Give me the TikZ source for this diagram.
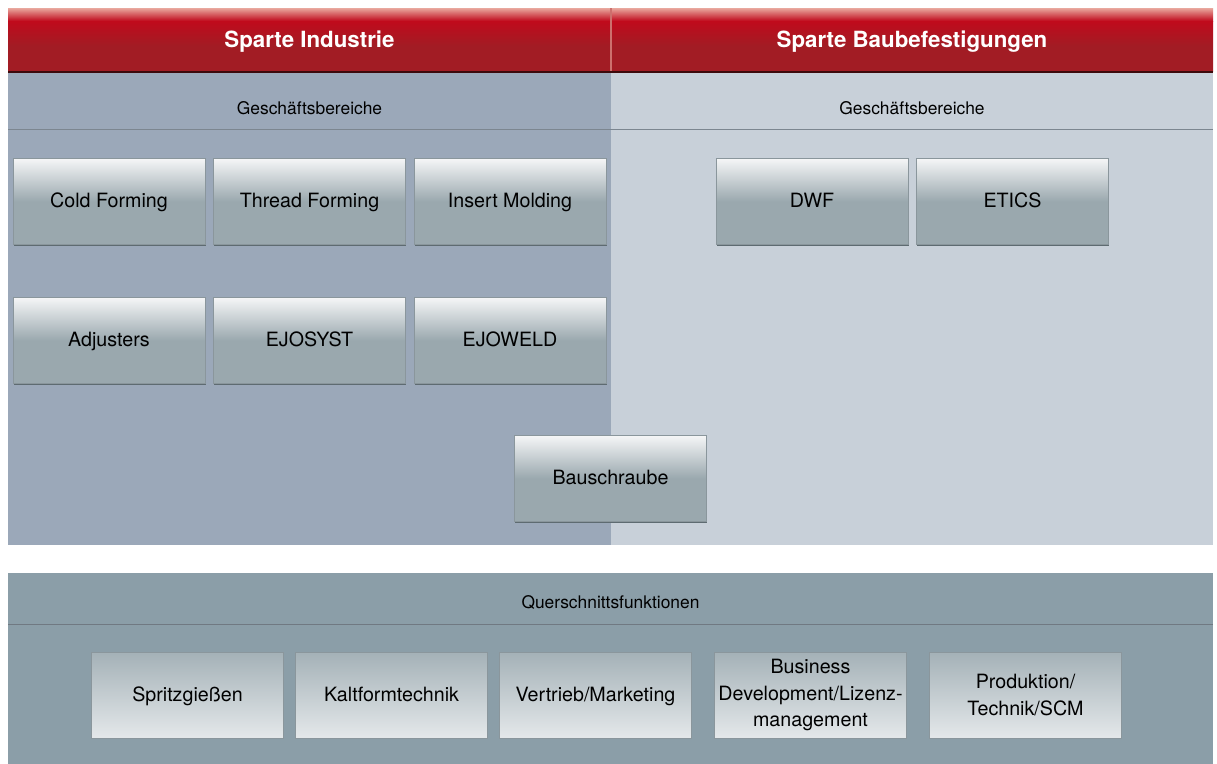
\documentclass[tikz,border=0pt]{standalone}
\usepackage{fontspec}
\setmainfont{TeX Gyre Heros}
\usetikzlibrary{shadows}

\definecolor{sparteTop}{HTML}{E9A89E}
\definecolor{sparteRed}{HTML}{C00A1C}
\definecolor{sparteDark}{HTML}{A21C24}
\definecolor{sparteEdge}{HTML}{3C0A0C}
\definecolor{panelIndustrie}{HTML}{9BA8B9}
\definecolor{panelBau}{HTML}{C8D0D9}
\definecolor{panelQuer}{HTML}{8B9EA8}
\definecolor{ruleDark}{HTML}{7C8690}
\definecolor{boxTop}{HTML}{F5F6F7}
\definecolor{boxGray}{HTML}{9AA8AE}
\definecolor{boxLight}{HTML}{E4E8EA}
\definecolor{boxQuer}{HTML}{A4B1B7}
\definecolor{boxEdge}{HTML}{8A969C}
\definecolor{boxShadow}{HTML}{5E6B71}

\begin{document}
\begin{tikzpicture}[x=0.02cm, y=-0.02cm,
    every node/.style={text=black, align=center},
    sparte/.style={text=white, font=\bfseries\fontsize{12.7}{15}\selectfont},
    bereich/.style={font=\fontsize{9.9}{12}\selectfont},
    tile/.style={rectangle, draw=boxEdge, line width=0.4pt,
        minimum width=3.84cm, minimum height=1.72cm, inner sep=1pt,
        font=\fontsize{11.2}{15.3}\selectfont,
        drop shadow={shadow xshift=0.5pt, shadow yshift=-0.7pt, fill=boxShadow, opacity=1}},
    oneline/.style={text height=0.72em, text depth=0pt},
    unit/.style={tile, oneline, top color=boxTop, bottom color=boxGray, middle color=boxGray},
    quer/.style={tile, top color=boxQuer, bottom color=boxLight}]
    \useasboundingbox[fill=white] (0,0) rectangle (1217,764);

    % Red header of both divisions
    \shade[top color=sparteTop, bottom color=sparteRed] (8,8) rectangle (1213,21);
    \shade[top color=sparteRed, bottom color=sparteDark, middle color=sparteDark] (8,21) rectangle (1213,71);
    \fill[sparteEdge] (8,71) rectangle (1213,73);
    \draw[sparteTop!60!sparteDark, line width=0.6pt] (611,8) -- (611,71);

    % Division panels
    \fill[panelIndustrie] (8,73) rectangle (611,545);
    \fill[panelBau] (611,73) rectangle (1213,545);
    \draw[ruleDark] (8,129) -- (1213,129);

    % Cross-section panel
    \fill[panelQuer] (8,573) rectangle (1213,764);
    \draw[ruleDark!90!black] (8,624) -- (1213,624);

    % Headings
    \node[sparte, oneline] (industrie) at (309.5,41) {Sparte Industrie};
    \node[sparte, oneline] (bau) at (912,41) {Sparte Baubefestigungen};
    \node[bereich, oneline] (gbIndustrie) at (309.5,108) {Geschäftsbereiche};
    \node[bereich, oneline] (gbBau) at (912,108) {Geschäftsbereiche};
    \node[bereich, oneline] (querschnitt) at (610.5,602) {Querschnittsfunktionen};

    % Business units Industrie
    \node[unit] (cold) at (109,201.5) {Cold Forming};
    \node[unit] (thread) at (309.5,201.5) {Thread Forming};
    \node[unit] (insert) at (510,201.5) {Insert Molding};
    \node[unit] (adjusters) at (109,340.5) {Adjusters};
    \node[unit] (ejosyst) at (309.5,340.5) {EJOSYST};
    \node[unit] (ejoweld) at (510,340.5) {EJOWELD};

    % Business units Baubefestigungen
    \node[unit] (dwf) at (812,201.5) {DWF};
    \node[unit] (etics) at (1012.5,201.5) {ETICS};
    \node[unit] (bauschraube) at (610.5,478.5) {Bauschraube};

    % Cross-section functions
    \node[quer, oneline] (spritz) at (187.5,695) {Spritzgießen};
    \node[quer, oneline] (kaltform) at (391.5,695) {Kaltformtechnik};
    \node[quer, oneline] (vertrieb) at (595.5,695) {Vertrieb/Marketing};
    \node[quer] (busdev) at (810.5,695) {Business\\Development/Lizenz-\\management};
    \node[quer] (produktion) at (1025.5,695) {Produktion/\\Technik/SCM};
\end{tikzpicture}
\end{document}
